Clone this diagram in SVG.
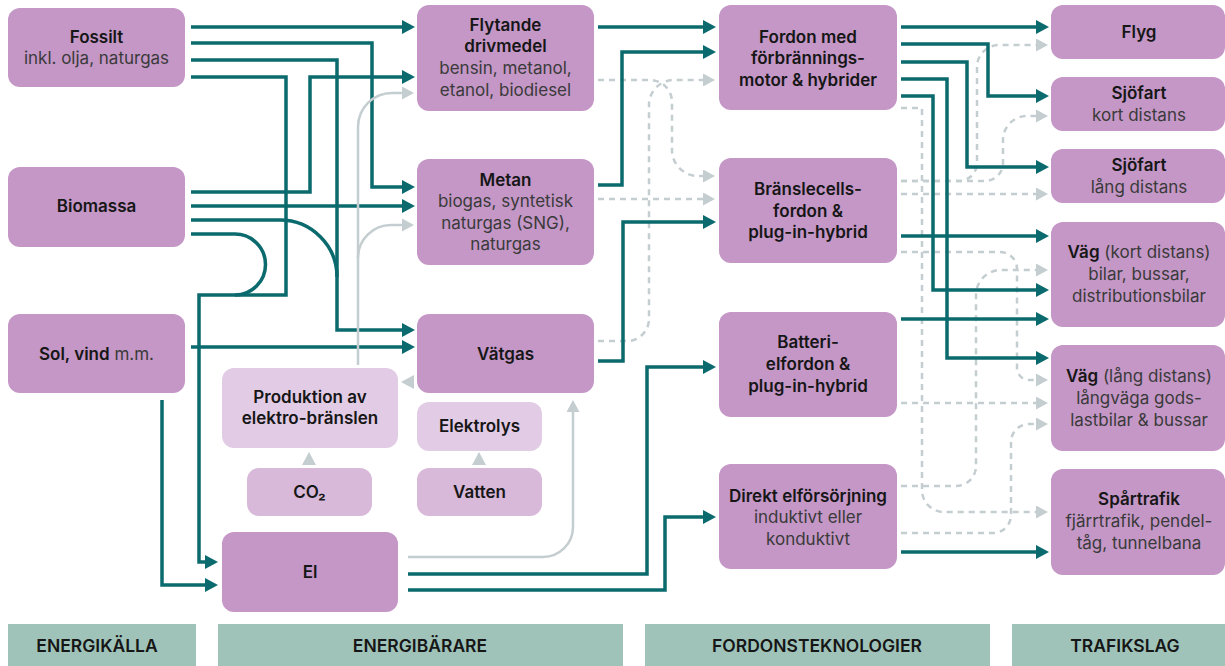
<svg xmlns="http://www.w3.org/2000/svg" width="1225" height="666" viewBox="0 0 1225 666">
<style>
.n{fill:#c497c6}
.l{fill:#e2cce5}
.m{fill:#d8b9da}
.bar{fill:#9fc3b9}
text{font-family:Inter,"Noto Sans","Liberation Sans",sans-serif;font-size:17px;text-anchor:middle;fill:#3a3a3a}
.b{font-weight:600;fill:#161616}
.lab{font-weight:600;font-size:17.5px;fill:#161616}
.t{fill:none;stroke:#0b6a6d;stroke-width:3.5}
.g{fill:none;stroke:#c4cdd0;stroke-width:2.5}
.d{fill:none;stroke:#c4cdd0;stroke-width:2.5;stroke-dasharray:6 5}
</style>
<defs>
<marker id="at" markerUnits="userSpaceOnUse" viewBox="0 0 13 14" refX="1" refY="7" markerWidth="13" markerHeight="14" orient="auto"><path d="M0,0L13,7L0,14z" fill="#0b6a6d"/></marker>
<marker id="ag" markerUnits="userSpaceOnUse" viewBox="0 0 12 13" refX="1" refY="6.5" markerWidth="12" markerHeight="13" orient="auto"><path d="M0,0L12,6.5L0,13z" fill="#c4cdd0"/></marker>
</defs>

<g id="connectors">
<g id="dashed">
<path class="d" d="M598,80H650A22,22 0 0 1 672,102V150A26,26 0 0 0 698,176H704" marker-end="url(#ag)"/>
<path class="d" d="M598,341H627A22,22 0 0 0 649,319V105A25,25 0 0 1 674,80H704" marker-end="url(#ag)"/>
<path class="d" d="M598,199H704" marker-end="url(#ag)"/>
<path class="d" d="M901,108H922V490A22,22 0 0 0 944,512H1037" marker-end="url(#ag)"/>
<path class="d" d="M901,181H959A18,18 0 0 0 977,163V67A22,22 0 0 1 999,45H1037" marker-end="url(#ag)"/>
<path class="d" d="M901,181H985A18,18 0 0 0 1003,163V140A24,24 0 0 1 1027,116H1037" marker-end="url(#ag)"/>
<path class="d" d="M901,194H1037" marker-end="url(#ag)"/>
<path class="d" d="M901,252H1000A17,17 0 0 1 1017,269V368A12,12 0 0 0 1029,380H1037" marker-end="url(#ag)"/>
<path class="d" d="M901,403H1037" marker-end="url(#ag)"/>
<path class="d" d="M901,486H956A20,20 0 0 0 976,466V295A25,25 0 0 1 1001,270H1037" marker-end="url(#ag)"/>
<path class="d" d="M901,533H993A18,18 0 0 0 1011,515V442A18,18 0 0 1 1029,424H1037" marker-end="url(#ag)"/>
</g>
<g id="teal">
<path class="t" d="M191,27H403" marker-end="url(#at)"/>
<path class="t" d="M191,43H372V187H403" marker-end="url(#at)"/>
<path class="t" d="M191,60H337V330H403" marker-end="url(#at)"/>
<path class="t" d="M191,77H286V295H199V562H206" marker-end="url(#at)"/>
<path class="t" d="M191,192H310V77H403" marker-end="url(#at)"/>
<path class="t" d="M191,206H403" marker-end="url(#at)"/>
<path class="t" d="M191,220H280A57,57 0 0 1 337,277"/>
<path class="t" d="M191,234H235A30.5,30.5 0 0 1 235,295"/>
<path class="t" d="M191,347H403" marker-end="url(#at)"/>
<path class="t" d="M162,400V585H206" marker-end="url(#at)"/>
<path class="t" d="M598,27H704" marker-end="url(#at)"/>
<path class="t" d="M598,185H622V52H704" marker-end="url(#at)"/>
<path class="t" d="M598,361H623V222H704" marker-end="url(#at)"/>
<path class="t" d="M408,574H647V367H704" marker-end="url(#at)"/>
<path class="t" d="M408,590H665V517H704" marker-end="url(#at)"/>
<path class="t" d="M901,27H1037" marker-end="url(#at)"/>
<path class="t" d="M901,44H988V96H1037" marker-end="url(#at)"/>
<path class="t" d="M901,62H967V167H1037" marker-end="url(#at)"/>
<path class="t" d="M901,79H947V358H1037" marker-end="url(#at)"/>
<path class="t" d="M901,96H933V290H1037" marker-end="url(#at)"/>
<path class="t" d="M901,236H1037" marker-end="url(#at)"/>
<path class="t" d="M901,319H1037" marker-end="url(#at)"/>
<path class="t" d="M901,552H1037" marker-end="url(#at)"/>
</g>
<g id="gray">
<path class="g" d="M358,365V127A34,34 0 0 1 392,93H403" marker-end="url(#ag)"/>
<path class="g" d="M358,258A33,33 0 0 1 391,225H403" marker-end="url(#ag)"/>
<path class="g" d="M408,557H543A30,30 0 0 0 573,527V411" marker-end="url(#ag)"/>
<polygon points="401,382 414,375 414,389" fill="#c4cdd0"/>
<polygon points="309,452 302,465 316,465" fill="#c4cdd0"/>
<polygon points="479,452 472,465 486,465" fill="#c4cdd0"/>
</g>
</g>

<g id="fossilt"><rect class="n" x="8" y="8" width="177" height="79" rx="12"/><text class="b" x="96.5" y="43">Fossilt</text><text x="96.5" y="64">inkl. olja, naturgas</text></g>
<g id="biomassa"><rect class="n" x="8" y="167" width="177" height="80" rx="12"/><text class="b" x="96.5" y="212">Biomassa</text></g>
<g id="sol"><rect class="n" x="8" y="314" width="177" height="79" rx="12"/><text x="96.5" y="360"><tspan class="b">Sol, vind</tspan> m.m.</text></g>

<g id="flytande"><rect class="n" x="417" y="5" width="177" height="106" rx="12"/><text class="b" x="505.5" y="31">Flytande</text><text class="b" x="505.5" y="52">drivmedel</text><text x="505.5" y="74">bensin, metanol,</text><text x="505.5" y="96">etanol, biodiesel</text></g>
<g id="metan"><rect class="n" x="417" y="159" width="177" height="106" rx="12"/><text class="b" x="505.5" y="186">Metan</text><text x="505.5" y="207">biogas, syntetisk</text><text x="505.5" y="229">naturgas (SNG),</text><text x="505.5" y="250">naturgas</text></g>
<g id="vatgas"><rect class="n" x="417" y="314" width="177" height="79" rx="12"/><text class="b" x="505.5" y="360">Vätgas</text></g>
<g id="produktion"><rect class="l" x="222" y="368" width="176" height="80" rx="12"/><text class="b" x="310" y="403">Produktion av</text><text class="b" x="310" y="424">elektro-bränslen</text></g>
<g id="elektrolys"><rect class="l" x="417" y="402" width="125" height="49" rx="12"/><text class="b" x="479.5" y="432">Elektrolys</text></g>
<g id="co2"><rect class="m" x="247" y="468" width="125" height="48" rx="12"/><text class="b" x="309.5" y="498">CO₂</text></g>
<g id="vatten"><rect class="m" x="417" y="468" width="125" height="48" rx="12"/><text class="b" x="479.5" y="498">Vatten</text></g>
<g id="el"><rect class="n" x="222" y="532" width="176" height="80" rx="12"/><text class="b" x="310" y="578">El</text></g>

<g id="fordon"><rect class="n" x="719" y="5" width="178" height="105" rx="12"/><text class="b" x="808" y="43">Fordon med</text><text class="b" x="808" y="64">förbrännings-</text><text class="b" x="808" y="86">motor &amp; hybrider</text></g>
<g id="branslecell"><rect class="n" x="719" y="158" width="178" height="105" rx="12"/><text class="b" x="808" y="195">Bränslecells-</text><text class="b" x="808" y="217">fordon &amp;</text><text class="b" x="808" y="238">plug-in-hybrid</text></g>
<g id="batteri"><rect class="n" x="719" y="312" width="178" height="105" rx="12"/><text class="b" x="808" y="348">Batteri-</text><text class="b" x="808" y="370">elfordon &amp;</text><text class="b" x="808" y="392">plug-in-hybrid</text></g>
<g id="direkt"><rect class="n" x="719" y="464" width="178" height="105" rx="12"/><text class="b" x="808" y="502">Direkt elförsörjning</text><text x="808" y="523">induktivt eller</text><text x="808" y="545">konduktivt</text></g>

<g id="flyg"><rect class="n" x="1051" y="5" width="174" height="54" rx="12"/><text class="b" x="1139" y="38">Flyg</text></g>
<g id="sjofart-kort"><rect class="n" x="1051" y="77" width="174" height="54" rx="12"/><text class="b" x="1139" y="99">Sjöfart</text><text x="1139" y="121">kort distans</text></g>
<g id="sjofart-lang"><rect class="n" x="1051" y="149" width="174" height="54" rx="12"/><text class="b" x="1139" y="171">Sjöfart</text><text x="1139" y="193">lång distans</text></g>
<g id="vag-kort"><rect class="n" x="1051" y="222" width="174" height="105" rx="12"/><text x="1139" y="258"><tspan class="b">Väg</tspan> (kort distans)</text><text x="1139" y="280">bilar, bussar,</text><text x="1139" y="302">distributionsbilar</text></g>
<g id="vag-lang"><rect class="n" x="1051" y="345" width="174" height="106" rx="12"/><text x="1139" y="382"><tspan class="b">Väg</tspan> (lång distans)</text><text x="1139" y="404">långväga gods-</text><text x="1139" y="426">lastbilar &amp; bussar</text></g>
<g id="spartrafik"><rect class="n" x="1051" y="469" width="174" height="106" rx="12"/><text class="b" x="1139" y="505">Spårtrafik</text><text x="1139" y="527">fjärrtrafik, pendel-</text><text x="1139" y="549">tåg, tunnelbana</text></g>

<g id="labels">
<rect class="bar" x="8" y="624" width="188" height="42"/><text class="lab" x="97" y="652">ENERGIKÄLLA</text>
<rect class="bar" x="218" y="624" width="405" height="42"/><text class="lab" x="420" y="652">ENERGIBÄRARE</text>
<rect class="bar" x="645" y="624" width="345" height="42"/><text class="lab" x="817" y="652">FORDONSTEKNOLOGIER</text>
<rect class="bar" x="1012" y="624" width="213" height="42"/><text class="lab" x="1125" y="652">TRAFIKSLAG</text>
</g>
</svg>
